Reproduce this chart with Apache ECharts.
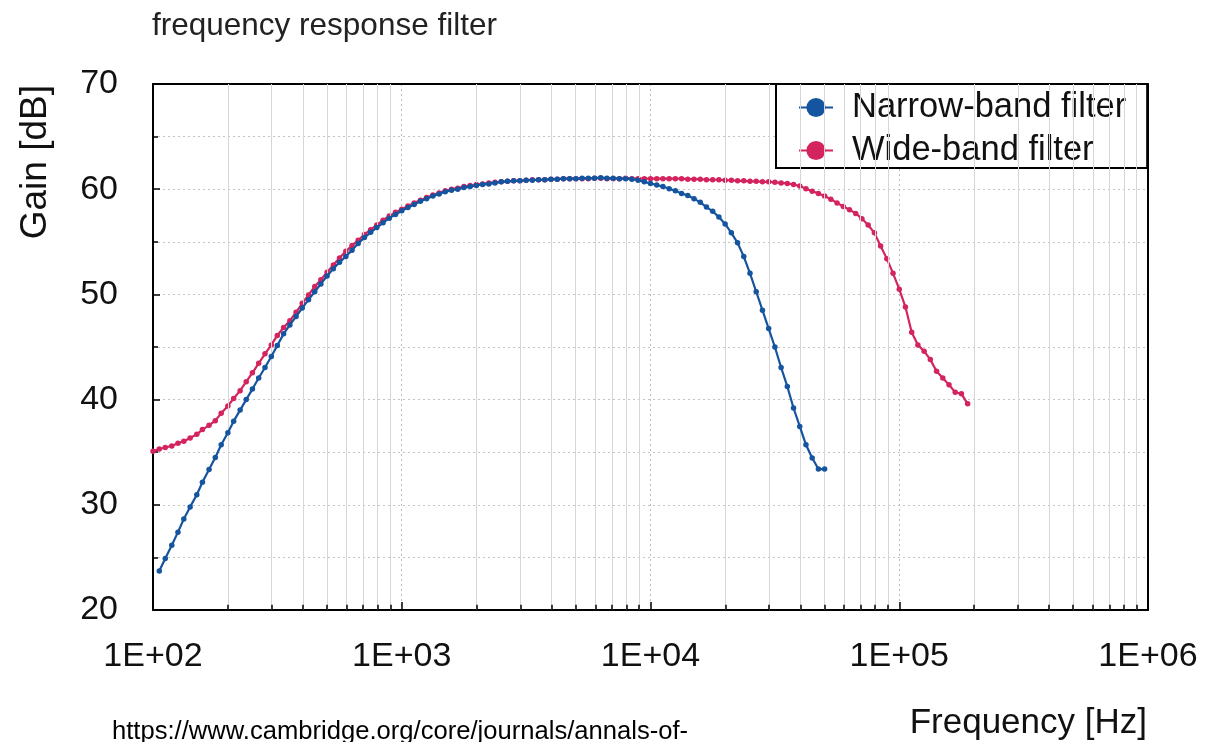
<!DOCTYPE html>
<html>
<head>
<meta charset="utf-8">
<script src="https://cdn.jsdelivr.net/npm/echarts@6/dist/echarts.min.js"></script>
<style>
html,body{margin:0;padding:0;background:#fff;}
#chart{width:1217px;height:742px;}
</style>
</head>
<body>
<div id="chart"></div>
<script>
// Frequencies [Hz] shared by both series
var freqHz = [
  100, 106, 112, 119, 126, 133, 141, 150, 158, 168,
  178, 188, 200, 211, 224, 237, 251, 266, 282, 299,
  316, 335, 355, 376, 398, 422, 447, 473, 501, 531,
  562, 596, 631, 668, 708, 750, 794, 841, 891, 944,
  1000, 1059, 1122, 1189, 1259, 1334, 1413, 1496, 1585, 1679,
  1778, 1884, 1995, 2113, 2239, 2371, 2512, 2661, 2818, 2985,
  3162, 3350, 3548, 3758, 3981, 4217, 4467, 4732, 5012, 5309,
  5623, 5957, 6310, 6683, 7079, 7499, 7943, 8414, 8913, 9441,
  10000, 10593, 11220, 11885, 12589, 13335, 14125, 14962, 15849, 16788,
  17783, 18836, 19953, 21135, 22387, 23714, 25119, 26607, 28184, 29854,
  31623, 33497, 35481, 37584, 39811, 42170, 44668, 47315, 50119, 53088,
  56234, 59566, 63096, 66834, 70795, 74989, 79433, 84140, 89125, 94406,
  100000, 105925, 112202, 118850, 125893, 133352, 141254, 149624, 158489, 167880,
  177828, 188365
];

// Wide-band filter gain [dB]
var wideGain = [
  35.1, 35.3, 35.45, 35.6, 35.85, 36.05, 36.35, 36.7, 37.15, 37.55,
  38.0, 38.7, 39.4, 40.1, 40.85, 41.7, 42.55, 43.45, 44.35, 45.2,
  46.1, 46.85, 47.5, 48.3, 49.15, 49.95, 50.75, 51.4, 52.1, 52.8,
  53.45, 54.1, 54.65, 55.15, 55.7, 56.15, 56.6, 57.05, 57.45, 57.8,
  58.1, 58.4, 58.7, 58.95, 59.2, 59.45, 59.65, 59.85, 60.0, 60.1,
  60.25, 60.35, 60.45, 60.5, 60.6, 60.65, 60.7, 60.75, 60.8, 60.8,
  60.85, 60.9, 60.9, 60.9, 60.95, 60.95, 61.0, 61.0, 61.0, 61.0,
  61.0, 61.05, 61.05, 61.0, 61.0, 61.0, 61.05, 61.0, 61.0, 61.0,
  61.0, 61.0, 61.0, 61.0, 61.0, 61.0, 60.95, 60.95, 60.95, 60.9,
  60.9, 60.9, 60.85, 60.85, 60.8, 60.8, 60.75, 60.75, 60.7, 60.7,
  60.65, 60.6, 60.55, 60.45, 60.3, 60.05, 59.8, 59.6, 59.35, 59.05,
  58.7, 58.35, 58.05, 57.7, 57.2, 56.6, 55.85, 54.6, 53.4, 52.0,
  50.5, 48.8, 46.4, 45.2, 44.6, 43.8, 42.7, 42.05, 41.4, 40.7,
  40.55, 39.6
];

// Narrow-band filter gain [dB] (null = not measured)
var narrowGain = [
  null, 23.7, 24.9, 26.15, 27.4, 28.65, 29.8, 30.95, 32.15, 33.35,
  34.5, 35.7, 36.85, 37.95, 39.0, 40.0, 41.0, 42.05, 43.05, 44.1,
  45.15, 46.25, 47.1, 47.9, 48.7, 49.5, 50.25, 51.0, 51.75, 52.45,
  53.05, 53.6, 54.2, 54.85, 55.4, 55.9, 56.35, 56.8, 57.25, 57.6,
  57.95, 58.25, 58.55, 58.85, 59.1, 59.35, 59.55, 59.75, 59.9, 60.0,
  60.15, 60.25, 60.35, 60.45, 60.5, 60.6, 60.7, 60.75, 60.8, 60.8,
  60.85, 60.85, 60.9, 60.9, 60.95, 60.95, 61.0, 61.0, 61.0, 61.05,
  61.05, 61.05, 61.1, 61.05, 61.05, 61.0, 61.0, 60.95, 60.85, 60.7,
  60.55, 60.4, 60.25, 60.05, 59.85, 59.6, 59.4, 59.1, 58.75, 58.3,
  57.9, 57.35, 56.7, 55.85, 54.9, 53.6, 52.0, 50.25, 48.5, 46.75,
  45.0, 43.05, 41.25, 39.2, 37.45, 35.7, 34.45, 33.4, 33.4
];

var seriesNames = ['Narrow-band filter', 'Wide-band filter'];
var xTickValues = [100, 1000, 10000, 100000, 1000000];
var xTickLabels = ['1E+02', '1E+03', '1E+04', '1E+05', '1E+06'];
var minorFreqs = [
  200, 300, 400, 500, 600, 700, 800, 900,
  2000, 3000, 4000, 5000, 6000, 7000, 8000, 9000,
  20000, 30000, 40000, 50000, 60000, 70000, 80000, 90000,
  200000, 300000, 400000, 500000, 600000, 700000, 800000, 900000
];
var titleText = 'frequency response filter';
var xName = 'Frequency [Hz]';
var yName = 'Gain [dB]';
var sourceText = 'https://www.cambridge.org/core/journals/annals-of-';

var FONT = "'Liberation Sans', Arial, Helvetica, sans-serif";
var BLUE = '#15549f';
var PINK = '#d3245e';

var wideData = [];
for (var i = 0; i < freqHz.length; i++) {
  if (wideGain[i] != null) wideData.push([freqHz[i], wideGain[i]]);
}
var narrowData = [];
for (var j = 0; j < freqHz.length; j++) {
  if (narrowGain[j] != null) narrowData.push([freqHz[j], narrowGain[j]]);
}

var gridLines = minorFreqs.map(function (f) { return { xAxis: f }; });
var tickMarks = minorFreqs.map(function (f) {
  return [{ coord: [f, 20] }, { coord: [f, 20.5] }];
});

var chart = echarts.init(document.getElementById('chart'), null, { renderer: 'canvas' });
chart.setOption({
  animation: false,
  backgroundColor: '#fff',
  title: {
    text: titleText,
    left: 152,
    top: 10,
    padding: 0,
    textStyle: { fontFamily: FONT, fontSize: 31.5, fontWeight: 'normal', color: '#222' }
  },
  grid: {
    left: 153, right: 69, top: 84, bottom: 132,
    show: false
  },
  legend: {
    orient: 'vertical',
    left: 776,
    top: 84,
    padding: [6, 21, 0, 22],
    itemGap: 8,
    itemWidth: 34,
    itemHeight: 24,
    borderColor: '#000',
    borderWidth: 2,
    backgroundColor: '#fff',
    data: seriesNames,
    textStyle: { fontFamily: FONT, fontSize: 34.5, color: '#111', padding: [0, 0, 0, 14] }
  },
  xAxis: [
    {
      type: 'log',
      logBase: 10,
      min: 100,
      max: 1000000,
      axisLine: { show: true, lineStyle: { color: '#000', width: 2 } },
      axisTick: { show: true, inside: true, length: 8, lineStyle: { color: '#000', width: 1.5 } },
      axisLabel: {
        fontFamily: FONT, fontSize: 34, color: '#111', margin: 30,
        showMinLabel: true, showMaxLabel: true,
        formatter: function (v) {
          for (var k = 0; k < xTickValues.length; k++) {
            if (Math.abs(v - xTickValues[k]) / xTickValues[k] < 1e-6) return xTickLabels[k];
          }
          return '';
        }
      },
      splitLine: { show: true, lineStyle: { color: '#bdbdbd', type: [2, 3], width: 1 } }
    },
    {
      type: 'log',
      logBase: 10,
      min: 100,
      max: 1000000,
      position: 'top',
      axisLine: { show: true, lineStyle: { color: '#000', width: 2 } },
      axisTick: { show: false },
      axisLabel: { show: false },
      splitLine: { show: false }
    }
  ],
  yAxis: [
    {
      type: 'value',
      min: 20,
      max: 70,
      interval: 10,
      axisLine: { show: true, lineStyle: { color: '#000', width: 2 } },
      axisTick: { show: true, inside: true, length: 7, lineStyle: { color: '#000', width: 1.5 } },
      minorTick: { show: true, splitNumber: 2, length: 5, lineStyle: { color: '#000', width: 1.5 } },
      axisLabel: { fontFamily: FONT, fontSize: 34, color: '#111', margin: 35 },
      splitLine: { show: true, lineStyle: { color: '#c4c4c4', type: [2, 3], width: 1 } },
      minorSplitLine: { show: true, lineStyle: { color: '#c4c4c4', type: [2, 3], width: 1 } }
    },
    {
      type: 'value',
      min: 20,
      max: 70,
      interval: 10,
      position: 'right',
      axisLine: { show: true, lineStyle: { color: '#000', width: 2 } },
      axisTick: { show: false },
      axisLabel: { show: false },
      splitLine: { show: false }
    }
  ],
  graphic: [
    {
      type: 'text',
      x: 36, y: 85,
      rotation: Math.PI / 2,
      style: { text: yName, font: '37px ' + FONT, fill: '#111', align: 'right', verticalAlign: 'middle' }
    },
    {
      type: 'text',
      x: 1147, y: 723,
      style: { text: xName, font: '35px ' + FONT, fill: '#111', align: 'right', verticalAlign: 'middle' }
    },
    {
      type: 'text',
      x: 112, y: 719,
      style: { text: sourceText, font: '25.6px ' + FONT, fill: '#000', align: 'left', verticalAlign: 'top' }
    }
  ],
  series: [
    {
      name: '__grid',
      type: 'line',
      data: [[100, 20]],
      showSymbol: false,
      lineStyle: { opacity: 0 },
      silent: true,
      z: 1,
      markLine: {
        silent: true,
        symbol: 'none',
        label: { show: false },
        lineStyle: { color: '#d6d6d6', type: 'solid', width: 1 },
        data: gridLines
      }
    },
    {
      name: '__ticks',
      type: 'line',
      data: [[100, 20]],
      showSymbol: false,
      lineStyle: { opacity: 0 },
      silent: true,
      z: 3,
      markLine: {
        silent: true,
        symbol: 'none',
        label: { show: false },
        lineStyle: { color: '#000', type: 'solid', width: 1.5 },
        data: tickMarks
      }
    },
    {
      name: seriesNames[1],
      type: 'line',
      data: wideData,
      symbol: 'circle',
      symbolSize: 5.5,
      showAllSymbol: true,
      color: PINK,
      lineStyle: { color: PINK, width: 2.2 },
      itemStyle: { color: PINK },
      z: 4
    },
    {
      name: seriesNames[0],
      type: 'line',
      data: narrowData,
      symbol: 'circle',
      symbolSize: 5.5,
      showAllSymbol: true,
      color: BLUE,
      lineStyle: { color: BLUE, width: 2.2 },
      itemStyle: { color: BLUE },
      z: 5
    }
  ]
});
</script>
</body>
</html>
